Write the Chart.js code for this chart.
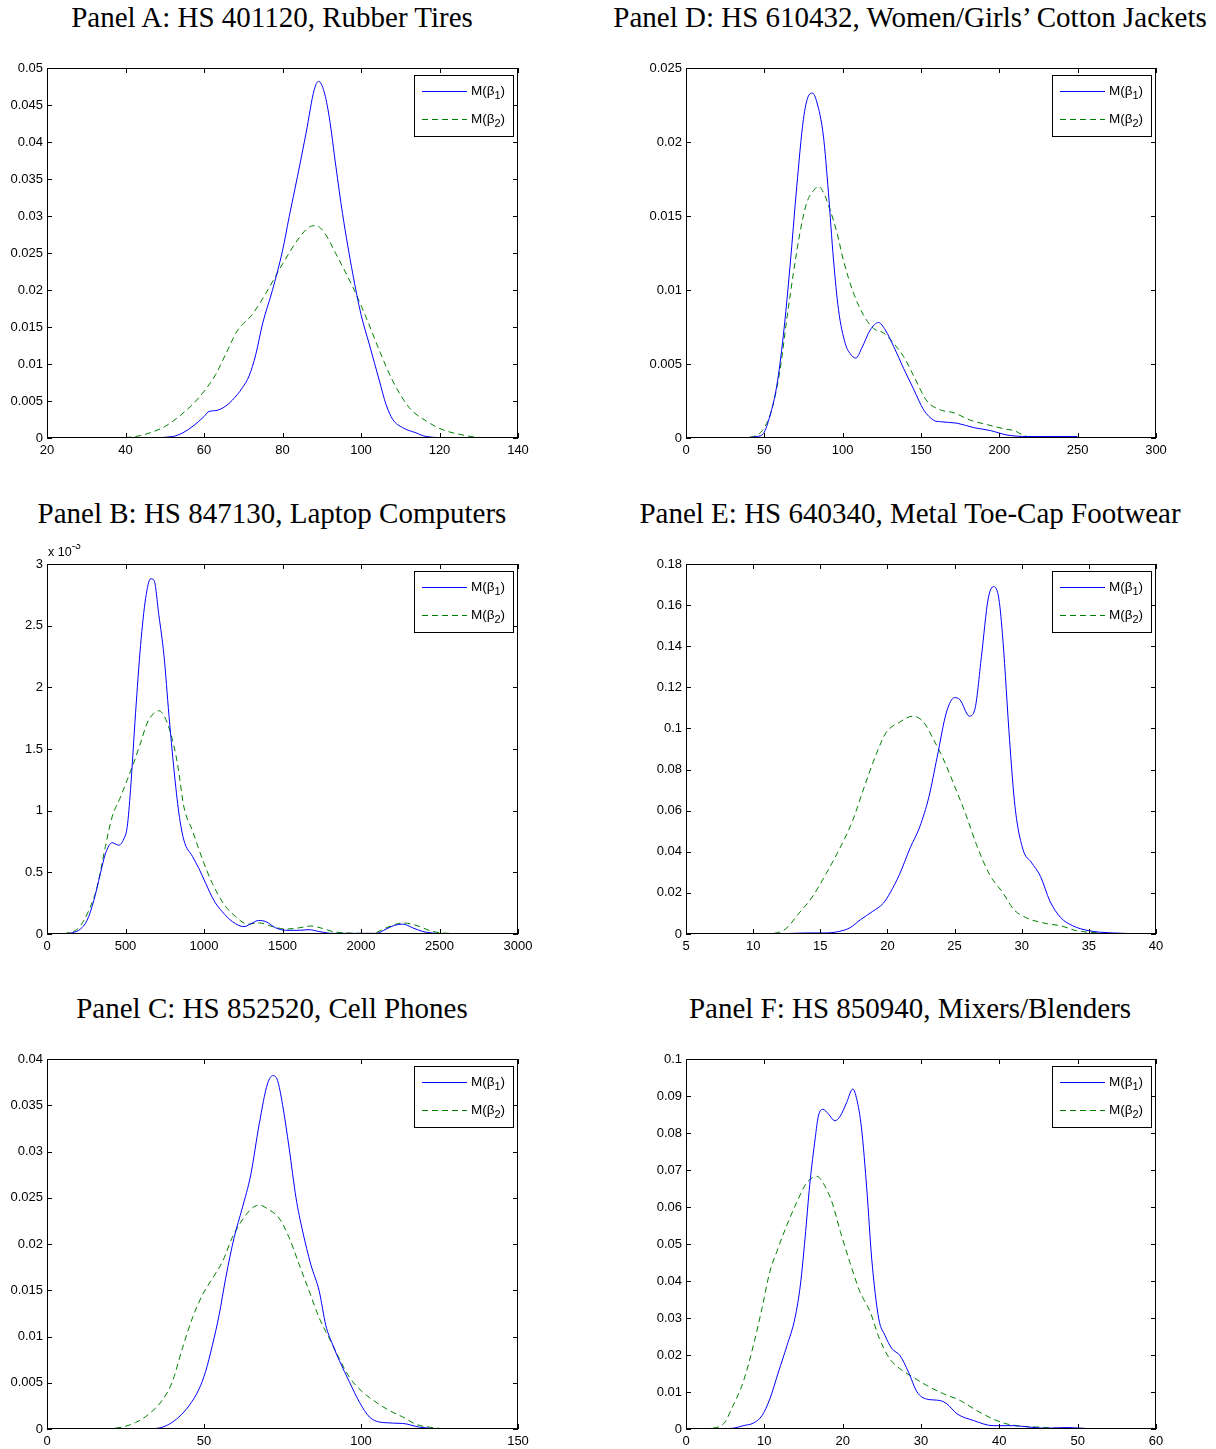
<!DOCTYPE html>
<html>
<head>
<meta charset="utf-8">
<script src="https://cdn.jsdelivr.net/npm/chart.js@4.4.1/dist/chart.umd.min.js"></script>
<style>
  html, body { margin: 0; padding: 0; background: #fff; overflow: hidden; }
  body { width: 1216px; height: 1449px; position: relative; }
  .title { position: absolute; height: 34px; line-height: 34px; width: 700px; text-align: center;
           font-family: 'Liberation Serif', serif; font-size: 29px; color: #000; white-space: nowrap; }
  canvas { position: absolute; }
</style>
</head>
<body>
<script>
// Panel A: HS 401120, Rubber Tires
const aBlueX  = [44.7, 52, 54.6, 57.2, 60, 61.3, 63, 65.5, 67.2, 69.8, 71.5, 73.2, 74.9, 77.4, 80, 81.7, 83.8, 86, 88.1, 89.2, 90.6, 91.9, 93.6, 95.3, 97.9, 100, 102.1, 104.7, 106.4, 108.1, 110.6, 114, 116.6, 123.4];
const aBlueY  = [0, 0.0002, 0.0007, 0.0016, 0.0029, 0.0036, 0.0037, 0.0043, 0.0051, 0.0068, 0.0084, 0.0113, 0.0154, 0.0199, 0.0253, 0.0299, 0.0353, 0.0412, 0.0471, 0.0482, 0.0468, 0.0434, 0.0367, 0.0303, 0.0222, 0.0167, 0.0127, 0.0077, 0.0045, 0.0025, 0.0014, 0.0007, 0.0002, 0];
const aGreenX = [37.4, 42.6, 46.8, 50.2, 53.6, 57, 60, 63, 65.5, 68.5, 72.3, 75.7, 80, 84.3, 86.8, 88.5, 90.6, 93.6, 97.9, 101.3, 104.7, 108.1, 112.3, 116.6, 120.9, 125.1, 129.4, 135.3];
const aGreenY = [0, 0.0002, 0.0008, 0.0016, 0.0029, 0.0045, 0.0063, 0.0086, 0.0113, 0.0145, 0.0167, 0.0195, 0.0235, 0.0271, 0.0285, 0.0287, 0.0278, 0.0249, 0.0204, 0.0163, 0.0118, 0.0077, 0.0041, 0.0023, 0.0011, 0.0005, 0.0001, 0];
const aXTicks = [20, 40, 60, 80, 100, 120, 140];
const aYTicks = [0, 0.005, 0.01, 0.015, 0.02, 0.025, 0.03, 0.035, 0.04, 0.045, 0.05];
const aYLabels = ['0', '0.005', '0.01', '0.015', '0.02', '0.025', '0.03', '0.035', '0.04', '0.045', '0.05'];

// Panel B: HS 847130, Laptop Computers (y in units of 10^-3)
const bBlueX  = [106, 160, 213, 255, 298, 340, 372, 415, 457, 489, 511, 532, 564, 596, 628, 660, 681, 713, 745, 777, 809, 840, 872, 926, 968, 1011, 1064, 1117, 1181, 1255, 1309, 1347, 1394, 1457, 1521, 1606, 1670, 1734, 1819, 2096, 2160, 2213, 2266, 2330, 2394, 2521];
const bBlueY  = [0, 0.01, 0.04, 0.11, 0.27, 0.49, 0.65, 0.74, 0.72, 0.77, 0.87, 1.17, 1.79, 2.34, 2.72, 2.88, 2.87, 2.58, 2.26, 1.77, 1.33, 0.98, 0.76, 0.63, 0.53, 0.41, 0.27, 0.18, 0.10, 0.06, 0.09, 0.11, 0.10, 0.05, 0.03, 0.03, 0.035, 0.02, 0.005, 0.005, 0.04, 0.07, 0.08, 0.05, 0.02, 0];
const bGreenX = [106, 202, 266, 319, 372, 415, 468, 511, 553, 596, 638, 681, 713, 745, 787, 830, 872, 926, 989, 1053, 1128, 1202, 1277, 1351, 1436, 1521, 1606, 1681, 1755, 1840, 2074, 2160, 2266, 2351, 2457, 2564, 2755];
const bGreenY = [0, 0.05, 0.19, 0.38, 0.71, 0.95, 1.11, 1.25, 1.39, 1.55, 1.71, 1.79, 1.81, 1.77, 1.63, 1.39, 1.03, 0.84, 0.61, 0.41, 0.24, 0.14, 0.08, 0.09, 0.06, 0.04, 0.05, 0.065, 0.045, 0.015, 0.005, 0.05, 0.09, 0.07, 0.02, 0.005, 0];
const bXTicks = [0, 500, 1000, 1500, 2000, 2500, 3000];
const bYTicks = [0, 0.5, 1, 1.5, 2, 2.5, 3];
const bYLabels = ['0', '0.5', '1', '1.5', '2', '2.5', '3'];

// Panel C: HS 852520, Cell Phones
const cBlueX  = [30.9, 35.6, 38.8, 42, 45.2, 48.4, 50.5, 52.7, 54.8, 56.9, 59.6, 62.2, 64.9, 67.6, 70.2, 72, 73.4, 75, 77.1, 79.3, 81.4, 84, 86.7, 88.8, 91, 93.1, 96.3, 99.5, 102.7, 106.9, 113.3, 118.6, 125];
const cBlueY  = [0, 0.0001, 0.0005, 0.0013, 0.0025, 0.0043, 0.0062, 0.0091, 0.0123, 0.0163, 0.0207, 0.0239, 0.0275, 0.033, 0.0373, 0.0382, 0.0377, 0.0351, 0.0304, 0.025, 0.0214, 0.0178, 0.0149, 0.0112, 0.0091, 0.0074, 0.0051, 0.0029, 0.0013, 0.0007, 0.0006, 0.0002, 0];
const cGreenX = [18.6, 23.9, 28.2, 32.4, 36.7, 39.9, 43.1, 46.3, 49.5, 52.7, 55.9, 59, 62.2, 65.4, 67.6, 70.7, 73.9, 77.1, 80.3, 83.5, 86.7, 89.9, 93.1, 96.3, 100.5, 104.8, 109, 113.3, 117.6, 121.8, 128.2, 146.3];
const cGreenY = [0, 0.0002, 0.0007, 0.0016, 0.0031, 0.0051, 0.0087, 0.012, 0.0145, 0.0163, 0.0181, 0.0207, 0.0226, 0.0239, 0.0242, 0.0237, 0.0228, 0.0207, 0.0178, 0.0149, 0.012, 0.0098, 0.0076, 0.0056, 0.004, 0.0029, 0.002, 0.0013, 0.0005, 0.0002, 0, 0];
const cXTicks = [0, 50, 100, 150];
const cYTicks = [0, 0.005, 0.01, 0.015, 0.02, 0.025, 0.03, 0.035, 0.04];
const cYLabels = ['0', '0.005', '0.01', '0.015', '0.02', '0.025', '0.03', '0.035', '0.04'];

// Panel D: HS 610432, Women/Girls' Cotton Jackets
const dBlueX  = [34.4, 45.1, 49.4, 53.6, 57.9, 62.1, 66.4, 70.7, 74.9, 78.1, 80.7, 83.5, 87.7, 90.9, 94.1, 97.3, 101.6, 104.8, 108.4, 112.3, 117.6, 122.9, 127.2, 132.5, 138.9, 145.3, 151.7, 158.1, 162.4, 173, 183.7, 194.4, 205, 217.8, 249.8];
const dBlueY  = [0, 0.0001, 0.0003, 0.0015, 0.0035, 0.0069, 0.0116, 0.017, 0.0215, 0.0231, 0.0233, 0.0227, 0.0204, 0.0166, 0.0121, 0.0087, 0.0064, 0.0057, 0.0054, 0.0061, 0.0073, 0.0078, 0.0073, 0.0062, 0.0047, 0.0033, 0.0019, 0.0012, 0.0011, 0.001, 0.0007, 0.0005, 0.0002, 0.0001, 0.0001];
const dGreenX = [34.4, 43, 49.4, 54.7, 60, 64.3, 68.5, 72.8, 77.1, 81.3, 84.5, 87.7, 92, 96.3, 100.5, 106.9, 113.3, 119.7, 126.1, 132.5, 138.9, 145.3, 153.8, 162.4, 171, 181.7, 192.4, 204.1, 209.3, 217.8, 230.6, 283.9];
const dGreenY = [0, 0.0001, 0.0006, 0.0019, 0.0046, 0.008, 0.0111, 0.0139, 0.0159, 0.0167, 0.017, 0.0166, 0.0154, 0.0139, 0.012, 0.0098, 0.0083, 0.0074, 0.0071, 0.0064, 0.0055, 0.0042, 0.0025, 0.0019, 0.0017, 0.0012, 0.0009, 0.0006, 0.0005, 0.0001, 0.00005, 0];
const dXTicks = [0, 50, 100, 150, 200, 250, 300];
const dYTicks = [0, 0.005, 0.01, 0.015, 0.02, 0.025];
const dYLabels = ['0', '0.005', '0.01', '0.015', '0.02', '0.025'];

// Panel E: HS 640340, Metal Toe-Cap Footwear
const eBlueX  = [11.9, 13.9, 15.2, 16.2, 17.2, 18, 18.9, 19.7, 20.2, 20.9, 21.7, 22.4, 23.1, 23.7, 24.4, 25, 25.4, 26.1, 26.5, 27, 27.5, 27.9, 28.3, 28.6, 29.1, 29.5, 30.1, 30.7, 31.4, 32.1, 32.9, 33.8, 35, 36.8, 39.6];
const eBlueY  = [0, 0.0005, 0.0005, 0.001, 0.003, 0.007, 0.011, 0.015, 0.02, 0.029, 0.042, 0.052, 0.067, 0.086, 0.108, 0.115, 0.114, 0.106, 0.109, 0.135, 0.163, 0.169, 0.163, 0.143, 0.094, 0.062, 0.041, 0.035, 0.028, 0.016, 0.008, 0.004, 0.0016, 0.0005, 0];
const eGreenX = [8.6, 11.4, 12.4, 13.4, 14.4, 15.4, 16.4, 17.4, 18.3, 19.2, 19.9, 20.9, 21.9, 22.7, 23.4, 24.1, 25, 25.9, 26.6, 27.6, 28.6, 29.4, 30.3, 31.9, 32.9, 34.1, 35.9, 37.9];
const eGreenY = [0, 0.0003, 0.0024, 0.01, 0.018, 0.029, 0.041, 0.055, 0.072, 0.088, 0.098, 0.103, 0.106, 0.103, 0.095, 0.086, 0.072, 0.057, 0.044, 0.029, 0.02, 0.012, 0.008, 0.005, 0.004, 0.0016, 0.0005, 0];
const eXTicks = [5, 10, 15, 20, 25, 30, 35, 40];
const eYTicks = [0, 0.02, 0.04, 0.06, 0.08, 0.1, 0.12, 0.14, 0.16, 0.18];
const eYLabels = ['0', '0.02', '0.04', '0.06', '0.08', '0.1', '0.12', '0.14', '0.16', '0.18'];

// Panel F: HS 850940, Mixers/Blenders
const fBlueX  = [3.5, 6, 7.3, 8.6, 9.7, 10.7, 11.8, 12.9, 13.9, 14.6, 15.2, 15.8, 16.5, 16.9, 17.5, 18.2, 19, 19.7, 20.5, 21.3, 21.8, 22.4, 23.1, 23.7, 24.6, 25.4, 26.3, 27.3, 28.4, 29.5, 30.7, 32.4, 33.3, 34.6, 36.7, 39.2, 41.8, 43.9, 46, 48.6, 52];
const fBlueY  = [0, 0.0002, 0.0009, 0.0016, 0.0036, 0.0081, 0.0154, 0.0226, 0.0299, 0.0389, 0.0516, 0.0661, 0.0787, 0.0846, 0.0864, 0.0851, 0.0833, 0.0846, 0.0882, 0.0919, 0.0891, 0.0814, 0.0643, 0.0462, 0.0299, 0.0253, 0.0217, 0.0199, 0.0154, 0.01, 0.0081, 0.0077, 0.0068, 0.0041, 0.0023, 0.0009, 0.0009, 0.0005, 0.0002, 0.0004, 0];
const fGreenX = [0.9, 3.1, 4.8, 6, 7.3, 8.6, 9.7, 10.7, 11.6, 12.9, 14.1, 15.4, 16.7, 17.5, 18.6, 19.7, 20.9, 22.2, 23.5, 24.7, 26, 27.3, 29, 30.7, 32.9, 35, 37.1, 39.2, 40.9, 43.1, 45.2, 47.3, 49.5];
const fGreenY = [0, 0.0002, 0.0014, 0.0063, 0.0127, 0.0226, 0.0326, 0.0425, 0.048, 0.0552, 0.0611, 0.0665, 0.0683, 0.0665, 0.0615, 0.0534, 0.0452, 0.0371, 0.0317, 0.0244, 0.019, 0.0163, 0.014, 0.0118, 0.0095, 0.0077, 0.005, 0.0027, 0.0014, 0.0007, 0.0005, 0.0002, 0];
const fXTicks = [0, 10, 20, 30, 40, 50, 60];
const fYTicks = [0, 0.01, 0.02, 0.03, 0.04, 0.05, 0.06, 0.07, 0.08, 0.09, 0.1];
const fYLabels = ['0', '0.01', '0.02', '0.03', '0.04', '0.05', '0.06', '0.07', '0.08', '0.09', '0.1'];

const seriesSubs = ['1', '2']; // M(β1), M(β2)
const seriesColors = ['#0000ff', '#008000'];
const seriesDash = [[], [6, 4]];

const panels = [
    { title: 'Panel A: HS 401120, Rubber Tires', col: 0, row: 0, bx: aBlueX, by: aBlueY, gx: aGreenX, gy: aGreenY, xt: aXTicks, yt: aYTicks, yl: aYLabels },
    { title: 'Panel B: HS 847130, Laptop Computers', col: 0, row: 1, bx: bBlueX, by: bBlueY, gx: bGreenX, gy: bGreenY, xt: bXTicks, yt: bYTicks, yl: bYLabels, exp: '-3' },
    { title: 'Panel C: HS 852520, Cell Phones', col: 0, row: 2, bx: cBlueX, by: cBlueY, gx: cGreenX, gy: cGreenY, xt: cXTicks, yt: cYTicks, yl: cYLabels },
    { title: 'Panel D: HS 610432, Women/Girls\u2019 Cotton Jackets', col: 1, row: 0, bx: dBlueX, by: dBlueY, gx: dGreenX, gy: dGreenY, xt: dXTicks, yt: dYTicks, yl: dYLabels },
    { title: 'Panel E: HS 640340, Metal Toe-Cap Footwear', col: 1, row: 1, bx: eBlueX, by: eBlueY, gx: eGreenX, gy: eGreenY, xt: eXTicks, yt: eYTicks, yl: eYLabels },
    { title: 'Panel F: HS 850940, Mixers/Blenders', col: 1, row: 2, bx: fBlueX, by: fBlueY, gx: fGreenX, gy: fGreenY, xt: fXTicks, yt: fYTicks, yl: fYLabels }
];

// page layout (pixels)
const cols = [
    { x: 0, w: 545, plotLeft: 47, plotRight: 518, titleCenter: 272 },
    { x: 620, w: 596, plotLeft: 686, plotRight: 1156, titleCenter: 910 }
];
const rows = [
    { plotTop: 68, titleY: 0 },
    { plotTop: 564, titleY: 496 },
    { plotTop: 1059, titleY: 991 }
];
const PLOT_H = 370;
const TOP_PAD = 20;
const XAXIS_H = 21;
const TICK = 5;
const FONT_FAMILY = "'Liberation Sans', Arial, sans-serif";

// draws the boxed axes with inward ticks, the legend and the exponent label
const matlabAxes = {
    id: 'matlabAxes',
    afterDraw(chart) {
        const { ctx, chartArea } = chart;
        const { left, right, top, bottom } = chartArea;
        const xs = chart.scales.x, ys = chart.scales.y;
        const panel = chart.options.plugins.matlabAxes;
        ctx.save();
        ctx.strokeStyle = '#000';
        ctx.lineWidth = 1;
        ctx.beginPath();
        xs.ticks.forEach(t => {
            const px = Math.round(xs.getPixelForValue(t.value)) + 0.5;
            ctx.moveTo(px, bottom); ctx.lineTo(px, bottom - TICK);
            ctx.moveTo(px, top); ctx.lineTo(px, top + TICK);
        });
        ys.ticks.forEach(t => {
            const py = Math.round(ys.getPixelForValue(t.value)) + 0.5;
            ctx.moveTo(left, py); ctx.lineTo(left + TICK, py);
            ctx.moveTo(right, py); ctx.lineTo(right - TICK, py);
        });
        ctx.stroke();
        ctx.strokeRect(left + 0.5, top + 0.5, right - left - 1, bottom - top - 1);

        // legend
        const bw = 99, bh = 61;
        const bxl = right - 5 - bw, byt = top + 7;
        ctx.fillStyle = '#fff';
        ctx.fillRect(bxl, byt, bw, bh);
        ctx.strokeStyle = '#000';
        ctx.strokeRect(bxl + 0.5, byt + 0.5, bw, bh);
        seriesSubs.forEach((sub, i) => {
            const ly = byt + 16 + i * 28;
            // sample line, drawn as filled segments
            ctx.fillStyle = seriesColors[i];
            const dash = seriesDash[i];
            if (dash.length) {
                for (let sx = bxl + 8; sx < bxl + 53; sx += dash[0] + dash[1]) {
                    ctx.fillRect(sx, ly, Math.min(dash[0], bxl + 53 - sx), 1);
                }
            } else {
                ctx.fillRect(bxl + 8, ly, 45, 1);
            }
            ctx.fillStyle = '#000';
            ctx.textBaseline = 'middle';
            ctx.textAlign = 'left';
            ctx.font = `13.5px ${FONT_FAMILY}`;
            let tx = bxl + 57;
            ctx.fillText('M(\u03b2', tx, ly + 0.5);
            tx += ctx.measureText('M(\u03b2').width;
            ctx.font = `11px ${FONT_FAMILY}`;
            ctx.fillText(sub, tx, ly + 4.5);
            tx += ctx.measureText(sub).width;
            ctx.font = `13.5px ${FONT_FAMILY}`;
            ctx.fillText(')', tx, ly + 0.5);
        });

        if (panel.exp) {
            ctx.fillStyle = '#000';
            ctx.textAlign = 'left';
            ctx.textBaseline = 'alphabetic';
            ctx.font = `12.5px ${FONT_FAMILY}`;
            ctx.fillText('x 10', left + 1, top - 8);
            const w = ctx.measureText('x 10').width;
            ctx.font = `10.5px ${FONT_FAMILY}`;
            ctx.fillText(panel.exp, left + 1 + w, top - 15);
        }
        ctx.restore();
    }
};

function makePanel(p) {
    try {
        const col = cols[p.col], row = rows[p.row];

        const title = document.createElement('div');
        title.className = 'title';
        title.textContent = p.title;
        title.style.left = (col.titleCenter - 350) + 'px';
        title.style.top = row.titleY + 'px';
        document.body.appendChild(title);

        const canvas = document.createElement('canvas');
        const h = TOP_PAD + PLOT_H + XAXIS_H;
        canvas.width = col.w;
        canvas.height = h;
        canvas.style.left = col.x + 'px';
        canvas.style.top = (row.plotTop - TOP_PAD) + 'px';
        document.body.appendChild(canvas);

        const yAxisW = col.plotLeft - col.x;
        const rightPad = col.w - (col.plotRight - col.x);
        const tickFont = { family: FONT_FAMILY, size: 13 };

        new Chart(canvas, {
            type: 'line',
            data: {
                datasets: [{
                    label: 'M(\u03b21)',
                    data: p.bx.map((x, i) => ({ x: x, y: p.by[i] })),
                    borderColor: seriesColors[0],
                    borderWidth: 1,
                    borderDash: seriesDash[0],
                    pointRadius: 0,
                    cubicInterpolationMode: 'monotone',
                    fill: false
                }, {
                    label: 'M(\u03b22)',
                    data: p.gx.map((x, i) => ({ x: x, y: p.gy[i] })),
                    borderColor: seriesColors[1],
                    borderWidth: 1,
                    borderDash: seriesDash[1],
                    pointRadius: 0,
                    cubicInterpolationMode: 'monotone',
                    fill: false
                }]
            },
            options: {
                responsive: false,
                animation: false,
                devicePixelRatio: 1,
                layout: { padding: { left: 0, top: TOP_PAD, right: rightPad, bottom: 0 } },
                plugins: {
                    legend: { display: false },
                    tooltip: { enabled: false },
                    matlabAxes: { exp: p.exp }
                },
                scales: {
                    x: {
                        type: 'linear',
                        min: p.xt[0],
                        max: p.xt[p.xt.length - 1],
                        grid: { display: false, drawTicks: false },
                        border: { display: false },
                        afterBuildTicks: s => { s.ticks = p.xt.map(v => ({ value: v })); },
                        afterFit: s => { s.height = XAXIS_H; },
                        ticks: { autoSkip: false, maxRotation: 0, padding: 5, color: '#000',
                                 font: tickFont, callback: v => String(v) }
                    },
                    y: {
                        type: 'linear',
                        min: p.yt[0],
                        max: p.yt[p.yt.length - 1],
                        grid: { display: false, drawTicks: false },
                        border: { display: false },
                        afterBuildTicks: s => { s.ticks = p.yt.map(v => ({ value: v })); },
                        afterFit: s => { s.width = yAxisW; },
                        ticks: { autoSkip: false, padding: 4, color: '#000',
                                 font: tickFont, callback: (v, i) => p.yl[i] }
                    }
                }
            },
            plugins: [matlabAxes]
        });
    } catch (error) {
        console.error('panel error:', error);
    }
}

panels.forEach(makePanel);
</script>
</body>
</html>
